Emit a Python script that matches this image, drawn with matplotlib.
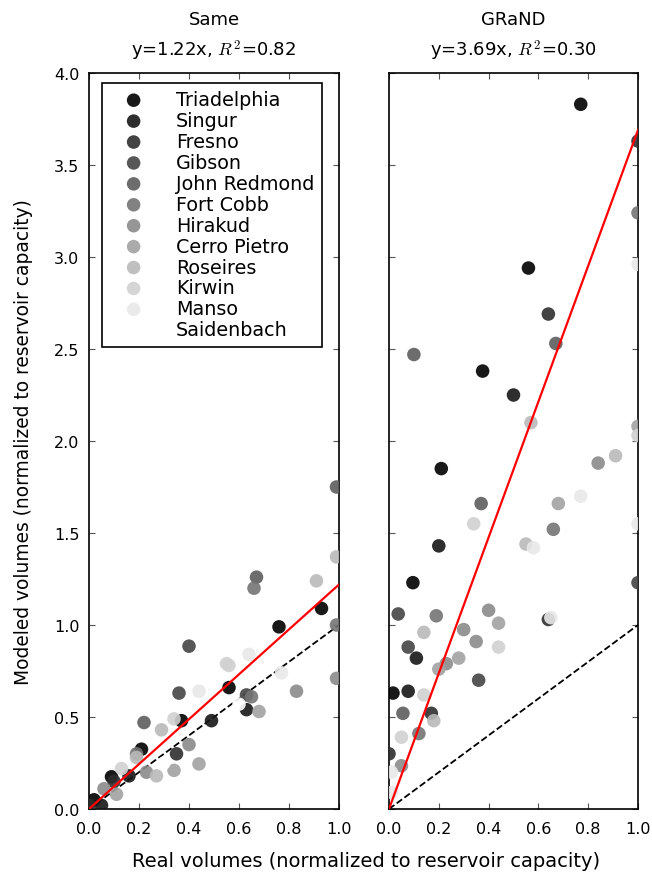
import matplotlib
matplotlib.use("Agg")
import matplotlib.pyplot as plt
import numpy as np

plt.rcParams['font.family'] = ['DejaVu Sans']
plt.rcParams['mathtext.fontset'] = 'cm'

reservoirs = ["Triadelphia", "Singur", "Fresno", "Gibson", "John Redmond", "Fort Cobb",
              "Hirakud", "Cerro Pietro", "Roseires", "Kirwin", "Manso", "Saidenbach"]

# Same dataset: (real, modeled) per reservoir
same_x = [
    [0.02, 0.09, 0.21, 0.37, 0.56, 0.76, 0.93],
    [0.05, 0.16, 0.49, 0.63],
    [0.35, 0.00, 0.10],
    [0.36, 0.63, 0.40],
    [0.67, 0.22, 0.99],
    [0.66, 0.65, 0.19, 0.99],
    [0.99, 0.83, 0.40, 0.23, 0.06],
    [0.44, 0.68, 0.11, 0.34],
    [0.91, 0.29, 0.27, 0.99, 0.19],
    [0.55, 0.56, 0.13, 0.34],
    [0.64, 0.44, 0.77],
    [0.60, 0.30],
]
same_y = [
    [0.05, 0.175, 0.325, 0.48, 0.66, 0.99, 1.09],
    [0.02, 0.18, 0.48, 0.54],
    [0.30, 0.02, 0.15],
    [0.63, 0.62, 0.885],
    [1.26, 0.47, 1.75],
    [1.20, 0.61, 0.30, 1.00],
    [0.71, 0.64, 0.35, 0.20, 0.11],
    [0.245, 0.53, 0.08, 0.21],
    [1.24, 0.43, 0.18, 1.37, 0.28],
    [0.79, 0.78, 0.22, 0.49],
    [0.84, 0.64, 0.74],
    [0.57, 0.25],
]

# GRaND dataset
grand_x = [
    [0.016, 0.096, 0.21, 0.376, 0.56, 0.77],
    [0.077, 0.11, 0.20, 0.50],
    [0.64, 0.00, 0.64, 0.17, 1.00],
    [0.037, 0.077, 0.36, 1.00],
    [0.67, 0.37, 0.10, 0.056],
    [0.19, 1.00, 0.66, 0.12],
    [0.84, 0.40, 0.30, 0.35, 0.23, 0.05],
    [0.68, 1.00, 0.44, 0.28, 0.20],
    [0.91, 0.57, 0.55, 0.14, 0.18],
    [0.34, 1.00, 0.44, 0.05, 0.14],
    [0.77, 0.58, 1.00, 0.65, 1.00, 0.01, 0.01],
    [0.30, 0.60],
]
grand_y = [
    [0.63, 1.23, 1.85, 2.38, 2.94, 3.83],
    [0.64, 0.82, 1.43, 2.25],
    [2.69, 0.30, 1.03, 0.52, 3.63],
    [1.06, 0.88, 0.70, 1.23],
    [2.53, 1.66, 2.47, 0.52],
    [1.05, 3.24, 1.52, 0.41],
    [1.88, 1.08, 0.975, 0.91, 0.79, 0.235],
    [1.66, 2.08, 1.01, 0.82, 0.76],
    [1.92, 2.10, 1.44, 0.96, 0.48],
    [1.55, 2.03, 0.88, 0.39, 0.62],
    [1.70, 1.42, 1.55, 1.04, 2.96, 0.20, 0.09],
    [0.50, 0.90],
]

titles = ["Same", "GRaND"]
slopes = [1.22, 3.69]
r2 = [0.82, 0.30]
xticks = [0.0, 0.2, 0.4, 0.6, 0.8, 1.0]
yticks = [0.0, 0.5, 1.0, 1.5, 2.0, 2.5, 3.0, 3.5, 4.0]

fig = plt.figure(figsize=(6.52, 8.78), dpi=100)
W, H = 652, 878
ax1 = fig.add_axes([89 / W, 1 - 810 / H, 250 / W, 736 / H])
ax2 = fig.add_axes([389 / W, 1 - 810 / H, 249 / W, 736 / H])

n = len(reservoirs)
for k, (ax, xs, ys) in enumerate([(ax1, same_x, same_y), (ax2, grand_x, grand_y)]):
    for i in range(n):
        col = plt.cm.gray(i / (n - 1))
        ax.scatter(xs[i], ys[i], s=95, color=col, alpha=0.9, edgecolors='none',
                   label=reservoirs[i], zorder=3)
    line = np.array([0.0, 1.0])
    ax.plot(line, line, 'k--', lw=1.3, zorder=2)
    ax.plot(line, slopes[k] * line, color='red', lw=1.6, zorder=4)
    ax.set_xlim(0, 1)
    ax.set_ylim(0, 4)
    ax.set_xticks(xticks)
    ax.set_yticks(yticks)
    ax.tick_params(direction='in', top=True, right=True, labelsize=11.5, length=4,
                   width=0.8, color='#555555')
    ax.tick_params(axis='x', pad=9)
    ax.tick_params(axis='y', pad=7)
    ax.set_title(f"{titles[k]}\ny={slopes[k]:.2f}x, $R^2$={r2[k]:.2f}", fontsize=13, pad=13,
                 linespacing=1.5)
    for sp in ax.spines.values():
        sp.set_linewidth(1.2)

ax2.tick_params(labelleft=False)

leg = ax1.legend(loc='upper left', scatterpoints=1, fontsize=13.8, frameon=True,
                 fancybox=False, edgecolor='black', framealpha=1,
                 handlelength=2.5, handletextpad=0.95, labelspacing=0.1, borderpad=0.4,
                 borderaxespad=0, bbox_to_anchor=(0.052, 0.987))
leg.get_frame().set_linewidth(1.2)

ax1.set_ylabel("Modeled volumes (normalized to reservoir capacity)", fontsize=13.4, labelpad=15)
fig.text(366 / W, 1 - 862 / H, "Real volumes (normalized to reservoir capacity)",
         ha='center', va='center', fontsize=14)

fig.savefig("out.png", dpi=100)
